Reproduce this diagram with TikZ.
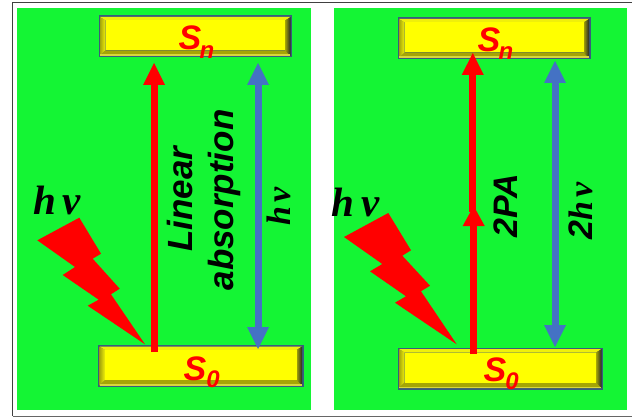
\documentclass[tikz,border=0pt]{standalone}
\usepackage{fontspec}
\setmainfont{Liberation Sans}
\newfontfamily\tms{Liberation Serif}
\definecolor{panelgreen}{RGB}{20,245,52}
\definecolor{barblue}{RGB}{68,114,196}
\definecolor{baryellow}{RGB}{255,255,0}
\definecolor{bevtop}{RGB}{240,240,10}
\definecolor{bevleft}{RGB}{165,165,10}
\definecolor{bevbot}{RGB}{165,165,5}
\definecolor{bevlight}{RGB}{215,215,60}
\definecolor{barline}{RGB}{58,92,125}
\tikzset{
  x=1pt,y=-1pt,
  panel/.style={fill=panelgreen,draw=none},
  bolt/.style={fill=red,draw=none},
  redshaft/.style={draw=red,line width=7pt},
  blueshaft/.style={draw=barblue,line width=7pt},
  redhead/.style={fill=red,draw=none},
  bluehead/.style={fill=barblue,draw=none},
  levellabel/.style={text=red,font=\fontsize{34}{34}\selectfont\bfseries\itshape,inner sep=0pt,anchor=base},
  sublabel/.style={text=red,font=\fontsize{24}{24}\selectfont\bfseries\itshape,inner sep=0pt,anchor=base},
  hvlabel/.style={text=black,font=\fontsize{41}{41}\selectfont\tms\bfseries\itshape,inner sep=0pt,anchor=base},
  sidelabel/.style={text=black,font=\fontsize{35}{35}\selectfont\bfseries\itshape,inner sep=0pt,anchor=base,rotate=90},
  sidehv/.style={text=black,font=\fontsize{34}{34}\selectfont\tms\bfseries\itshape,inner sep=0pt,anchor=base,rotate=90},
}
\newcommand{\levelbar}[4]{%
  \fill[barline] (#1,#2) rectangle (#3,#4);
  \fill[bevtop] (#1+1.5,#2+1.5) -- (#3-1.5,#2+1.5) -- (#3-7,#2+5) -- (#1+7,#2+5) -- cycle;
  \shade[left color=bevleft,right color=bevtop] (#1+1.5,#2+1.5) -- (#1+7,#2+5) -- (#1+7,#4-7) -- (#1+1.5,#4-1.5) -- cycle;
  \fill[bevbot] (#1+1.5,#4-1.5) -- (#3-1.5,#4-1.5) -- (#3-7,#4-7) -- (#1+7,#4-7) -- cycle;
  \shade[left color=bevbot,right color=black!85] (#3-1.5,#2+1.5) -- (#3-1.5,#4-1.5) -- (#3-7,#4-7) -- (#3-7,#2+5) -- cycle;
  \fill[bevlight] (#1+1.5,#4-3) rectangle (#3-2,#4-1.5);
  \fill[baryellow] (#1+7,#2+5) rectangle (#3-7,#4-7);
}
\begin{document}
\begin{tikzpicture}
\useasboundingbox (0,0) rectangle (632,417);
\fill[white] (0,0) rectangle (632,417);
\draw[black!75,line width=0.8pt] (12.5,416) -- (12.5,2) -- (632,2);
\draw[black!60,line width=1pt] (12.5,416) -- (632,416);
\fill[panel] (17,8) rectangle (311,410);
\fill[panel] (334,8) rectangle (627,410);
\levelbar{98.5}{15.5}{292}{57.5}
\levelbar{98}{345}{303.5}{387}
\levelbar{397.5}{17.5}{590.5}{59.5}
\levelbar{397.5}{347.5}{603}{389.5}
\fill[bolt] (37.3,240.3) -- (79.3,217.7) -- (101,253.7) -- (92.7,258.7) -- (119.7,288.7) -- (111,294.3) -- (145,344.3) -- (87.7,305.7) -- (98.7,299.7) -- (62.7,275) -- (75,267) -- cycle;
\fill[bolt] (344,237) -- (388.3,213) -- (411,250.3) -- (402.3,255.7) -- (430,285.7) -- (421,291.3) -- (456.7,344.3) -- (395,302.7) -- (406,296.3) -- (370,271.3) -- (382.3,264) -- cycle;
% left arrows
\coordinate (lrb) at (154,352); \coordinate (lrt) at (154,85);
\draw[redshaft] (lrb) -- (lrt);
\fill[redhead] (143,85) -- (154,63) -- (165,85) -- cycle;
\coordinate (lbt) at (258,85); \coordinate (lbb) at (258,327);
\draw[blueshaft] (lbt) -- (lbb);
\fill[bluehead] (247,85) -- (258,63) -- (269,85) -- cycle;
\fill[bluehead] (247,327) -- (258,349) -- (269,327) -- cycle;
% right arrows
\coordinate (rrb) at (473.7,354); \coordinate (rrm) at (473.7,226);
\coordinate (rru) at (472.8,212); \coordinate (rrt) at (472.8,75);
\draw[redshaft] (rrb) -- (rrm);
\draw[redshaft] (rru) -- (rrt);
\fill[redhead] (461.7,75) -- (472.8,53) -- (483.8,75) -- cycle;
\fill[redhead] (462.7,226) -- (473.7,206) -- (484.7,226) -- cycle;
\coordinate (rbt) at (555,83); \coordinate (rbb) at (555,325);
\draw[blueshaft] (rbt) -- (rbb);
\fill[bluehead] (544,83) -- (555,61) -- (566,83) -- cycle;
\fill[bluehead] (544,325) -- (555,347) -- (566,325) -- cycle;
% labels
\node[levellabel] (sn1) at (190,50) {S};
\node[sublabel] (sn1s) at (207,59) {n};
\node[levellabel] (s01) at (195,380) {S};
\node[sublabel] (s01s) at (213,387) {0};
\node[levellabel] (sn2) at (489,52) {S};
\node[sublabel] (sn2s) at (506,60) {n};
\node[levellabel] (s02) at (495,381) {S};
\node[sublabel] (s02s) at (512,389) {0};
\node[hvlabel] (hv1) at (57,214) {h\hspace{7pt}ν};
\node[hvlabel] (hv2) at (355.5,216) {h\hspace{7pt}ν};
\node[sidelabel] (la1) at (192,199) {Linear};
\node[sidelabel] (la2) at (233,200) {absorption};
\node[sidehv] (hv3) at (290,206) {h\hspace{4pt}ν};
\node[sidelabel,font=\fontsize{34}{34}\selectfont\bfseries\itshape] (tpa) at (517,206) {2PA};
\node[sidehv] (thv) at (592,211) {{\fontsize{34}{34}\selectfont\rmfamily\bfseries\itshape 2}h\hspace{4pt}ν};
\end{tikzpicture}
\end{document}
